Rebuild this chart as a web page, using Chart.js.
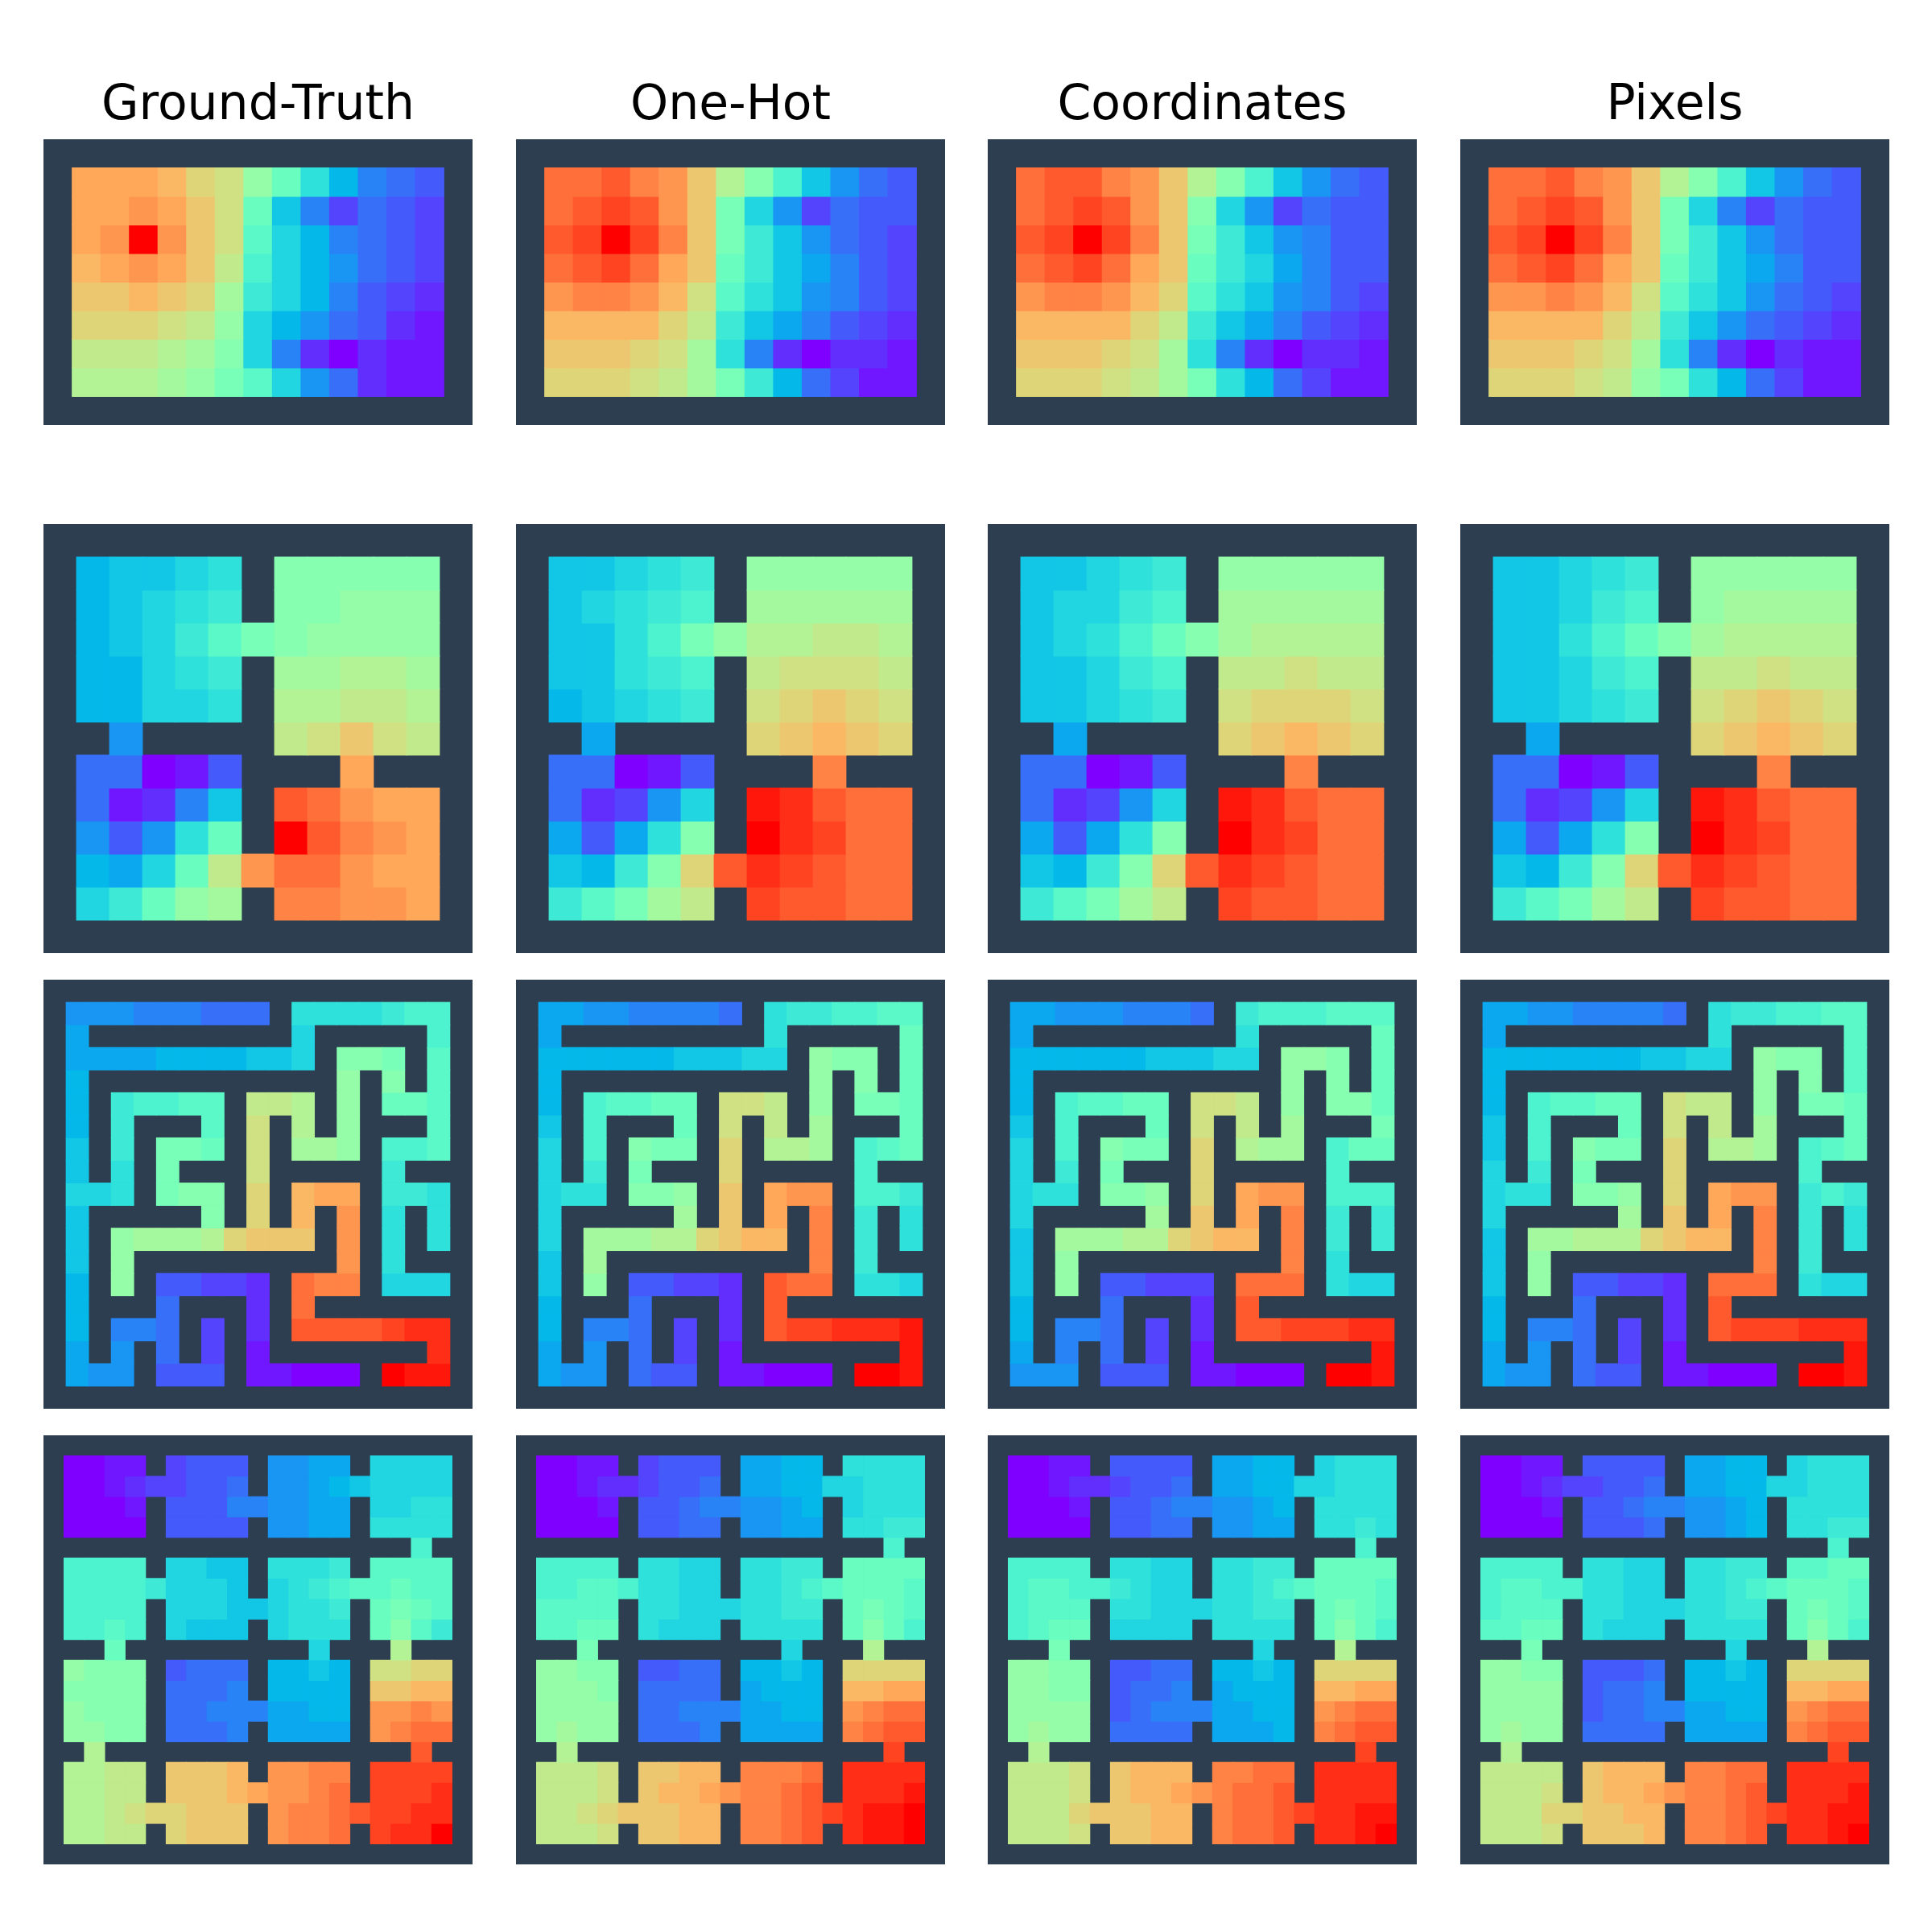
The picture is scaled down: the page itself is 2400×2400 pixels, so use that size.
<!DOCTYPE html>
<html lang="en">
<head>
<meta charset="UTF-8" />
<title>Value maps</title>
<script src="https://cdn.jsdelivr.net/npm/chart.js@4/dist/chart.umd.js"></script>
<style>
  html, body { margin: 0; background: #fff; }
  body { width: 2400px; height: 2400px; position: relative; overflow: hidden; }
  canvas { position: absolute; }
</style>
</head>
<body>
<script>
// one character per cell: "." is a wall, 0-9a-z is the value from 0 to 35 (35 = top of the scale)
const columnTitles = ["Ground-Truth", "One-Hot", "Coordinates", "Pixels"];

const openGroundTruth = ["...............",".rrrqonjgc9654.",".rrsrpnga63543.",".rszspnfb96543.",".qrsrpmeb97543.",".ppqpokdb96432.",".ooonmjb975421.",".mmmlkib620211.",".lllkjhfb75211.","..............."];
const openOneHot = ["...............",".uuvtspliea754.",".uvwvsphb73544.",".vwzwtphda7543.",".uvwurpgda8643.",".sttsqnfca7643.",".qqqqomda86432.",".ppponkc620221.",".ooonmkhd95311.","..............."];
const openCoordinates = ["...............",".uvvtspliea754.",".uvwvspib73544.",".vwzwtphda7644.",".uvwurpgdb8644.",".sttsqofca7643.",".qqqqomda86432.",".ppponkc620221.",".ooonmkhc95311.","..............."];
const openPixels = ["...............",".uuvtspliea754.",".uvwvsphb63544.",".vwzwtphda7544.",".uvwurpgda8644.",".sstsqnfca7543.",".qqqqomda75432.",".ppponkc620211.",".ooonmjhc95311.","..............."];

const roomsGroundTruth = [".............",".9aabc.iiiii.",".9abcd.iijjj.",".9abdfhijjjj.",".99bcd.kkllk.",".99bbc.llmml.","..7....mnpnm.",".55014...r...",".5126a.vusrr.",".747cg.zvtsr.",".98bgmsuusrr.",".bdgjk.ttssr.","............."];
const roomsOneHot = [".............",".aabcd.jjjjj.",".abcde.kkkkk.",".aacehjllmml.",".aacde.mnnnm.",".9abcd.nopon.","..8....opqpo.",".55014...t...",".5237b.yxvuu.",".848ci.zxwuu.",".a9diovxwvuu.",".dfhkm.wvvuu.","............."];
const roomsCoordinates = [".............",".aabcd.jjjjj.",".abbde.kkkkk.",".abcegikllll.",".aabde.mmnmm.",".aabcd.nooon.","..8....opqpo.",".55014...t...",".5237b.yxvuu.",".848ci.zxwuu.",".a9diovxwvuu.",".dfhkm.wvvuu.","............."];
const roomsPixels = [".............",".aabcd.jjjjj.",".aabde.jkkkk.",".aacegikllll.",".aabde.mmnmm.",".aabcd.nopon.","..8....opqpo.",".55014...t...",".5237b.yxvuu.",".848ci.zxwuu.",".a9diovxwvuu.",".dfhkm.wvvuu.","............."];

const mazeGroundTruth = ["...................",".777666555.ccccdee.",".8.........b.....e.",".88889999aab.iih.f.",".9...........j.i.f.",".9.deeff.mml.j.ggf.",".9.d...f.n.l.j...f.",".a.d.hhg.n.kkj.eef.",".a.c.h...n.....d...",".bbc.hii.o.qrr.ddc.",".a.....i.o.q.s.c.c.",".a.jkkkloppp.s.c.c.",".a.j.........s.c...",".9.j.44332.utt.bbb.",".9...5...2.u.......",".9.665.3.2.vvvvwxx.",".8.7.5.3.1.......x.",".877.444.11000.zyy.","..................."];
const mazeOneHot = ["...................",".887766665.cddeeff.",".8.........c.....g.",".999999aaabb.jii.g.",".9...........j.i.g.",".9.effgg.nnm.j.hhg.",".a.e...g.n.m.k...g.",".b.e.ihh.o.llk.efg.",".b.d.h...o.....e...",".bcc.iij.p.rss.eed.",".b.....k.p.r.t.d.c.",".b.kkkllopqq.t.d.c.",".a.k.........t.d...",".a.j.44332.vuu.ccb.",".9...5...2.v.......",".9.665.3.2.vwwxxxy.",".8.7.5.3.1.......y.",".877.544.11000.zzy.","..................."];
const mazeCoordinates = ["...................",".887776665.deeefff.",".8.........c.....g.",".999999aaabb.jji.g.",".9...........j.i.g.",".9.effgg.nnm.j.iig.",".a.e...g.n.m.k...h.",".b.e.ihh.o.lkk.egg.",".b.d.h...o.....e...",".bcc.iij.o.rss.eee.",".b.....k.p.r.t.d.d.",".a.kkkllopqq.t.d.d.",".a.j.........t.c...",".a.j.44333.uuu.cbb.",".9...5...2.v.......",".9.665.3.2.vvwwwxx.",".8.6.5.3.1.......y.",".777.444.11000.zzy.","..................."];
const mazePixels = ["...................",".887766665.cddeeff.",".8.........c.....f.",".9999999aabb.jii.f.",".9...........j.i.f.",".9.effgg.nmm.j.hhg.",".a.e...g.n.m.k...g.",".a.e.ihh.o.llk.efg.",".b.d.h...o.....e...",".bcc.iij.o.rss.ded.",".b.....k.p.r.t.d.c.",".a.kklllopqq.t.d.c.",".a.j.........t.d...",".a.j.44332.uuu.cbb.",".9...5...2.v.......",".9.665.3.2.vwwwxxx.",".8.7.5.3.1.......y.",".877.544.11000.zzy.","..................."];

const blocksGroundTruth = [".....................",".0011.3444.7788.bbbb.",".001233445.7789abbbb.",".0001.444667788.bbcc.",".0000.4444.7788.cccc.","..................e..",".eeee.bbaa.cccd.ffff.",".eeeedbbba.bcdeffgff.",".eeee.bbbaabccd.ghgf.",".eefe.baaa.bccc.gifd.","...g.........b...l...",".jiii.4555.99a9.nnoo.",".iiii.5556.9999.ppqq.",".jiii.556668899.ssts.",".jjii.5556.8888.stuu.","..l...............v..",".llmm.pppq.sstt.wwww.",".llmm.pppqrsstu.wwwx.",".llmnooppp.sttuvwwxx.",".llmm.oppp.sttu.wxxz.","....................."];
const blocksOneHot = [".....................",".0011.3444.8899.cccc.",".001223445.8899bbccc.",".0001.445667789.bccc.",".0000.4455.7788.ccdd.","..................e..",".eeee.ccbb.ccdd.gggg.",".eeffeccbb.ccdefgggf.",".ffff.ccbbbccdd.ghgf.",".ffgg.cbbb.cccc.gige.","...h.........b...l...",".jjii.4455.99a9.oooo.",".jjji.5555.8999.qqrr.",".jjjj.556668899.stuu.",".jkjj.5556.8888.tuvv.","..l...............w..",".mmmn.ppqq.tttu.xxxx.",".mmmn.pqqrsttuv.xxxy.",".mmnopppqq.ttuvwxyyz.",".mmmn.ppqq.ttuv.xyyz.","....................."];
const blocksCoordinates = [".....................",".0011.4444.8899.bccc.",".001223445.8899bbccc.",".0001.445667789.cccc.",".0000.4455.7788.ccdc.","..................e..",".eeee.ccbb.ccdd.gggg.",".effeedcbb.ccdefgggf.",".efff.ccbbbccdd.ghgf.",".efgg.bbbb.cccc.gige.","...h.........b...l...",".jjii.4455.99a9.oooo.",".jjii.4556.8999.qqrr.",".jjjj.456668899.stuu.",".jkjj.5555.8889.tuvv.","..l...............w..",".mmmn.pqqq.ttuu.xxxx.",".mmmn.pqqrstuuv.xxxx.",".mmmopppqq.tuuvwxxyy.",".mmmn.ppqq.tuuv.xxyz.","....................."];
const blocksPixels = [".....................",".0011.4444.8899.bccc.",".001233445.8899bbccc.",".0001.445667789.cccc.",".0000.4445.7789.ccdd.","..................e..",".eeee.ccbb.ccdd.ffgg.",".effeeccbb.ccdefgggf.",".efff.ccbbbccdd.ghgf.",".ffgg.cbbb.cccc.gige.","...h.........b...l...",".jjii.4445.99a9.oooo.",".jjjj.4556.9999.qqrr.",".jjjj.455668899.stuu.",".jkjj.5555.8888.tuvv.","..l...............w..",".mmmm.pqqq.ttuu.xxxx.",".mmmn.pqqrsttuv.xxxy.",".mmmooppqq.ttuvwxxyy.",".mmmn.pppq.ttuv.xxyz.","....................."];

const gridRows = [
  [openGroundTruth, openOneHot, openCoordinates, openPixels],
  [roomsGroundTruth, roomsOneHot, roomsCoordinates, roomsPixels],
  [mazeGroundTruth, mazeOneHot, mazeCoordinates, mazePixels],
  [blocksGroundTruth, blocksOneHot, blocksCoordinates, blocksPixels],
];

const panelLeft = [54, 641, 1227, 1814];
const panelTop = [173, 651, 1217, 1783];
const panelWidth = 533;
const panelHeight = [355, 533, 533, 533];
const titleBlock = 113;
const wallColor = "#2c3e50";

// matplotlib "rainbow"
function rainbow(x) {
  const r = Math.min(1, Math.abs(2 * x - 0.5));
  const g = Math.sin(Math.PI * x);
  const b = Math.cos((Math.PI * x) / 2);
  return `rgb(${Math.round(r * 255)},${Math.round(g * 255)},${Math.round(b * 255)})`;
}

const wallBackground = {
  id: "wallBackground",
  beforeDatasetsDraw(chart) {
    const a = chart.chartArea;
    chart.ctx.fillStyle = wallColor;
    chart.ctx.fillRect(a.left, a.top, a.right - a.left, a.bottom - a.top);
  },
};

function drawPanel(grid, row, col) {
  const canvas = document.createElement("canvas");
  const withTitle = row === 0;
  canvas.width = panelWidth;
  canvas.height = panelHeight[row] + (withTitle ? titleBlock : 0);
  canvas.style.left = panelLeft[col] + "px";
  canvas.style.top = panelTop[row] - (withTitle ? titleBlock : 0) + "px";
  document.body.appendChild(canvas);

  const nRows = grid.length;
  const labels = grid[0].split("").map((_, j) => j);
  const datasets = grid.map((line, i) => ({
    data: line.split("").map((c) => (c === "." ? null : [i, i + 1])),
    backgroundColor: line.split("").map((c) => (c === "." ? wallColor : rainbow(parseInt(c, 36) / 35))),
  }));

  new Chart(canvas, {
    type: "bar",
    data: { labels, datasets },
    plugins: [wallBackground],
    options: {
      responsive: false,
      animation: false,
      events: [],
      grouped: false,
      categoryPercentage: 1,
      barPercentage: 1,
      borderWidth: 0,
      inflateAmount: 0.4,
      layout: { padding: 0 },
      scales: {
        x: { display: false },
        y: { display: false, reverse: true, min: 0, max: nRows },
      },
      plugins: {
        legend: { display: false },
        tooltip: { enabled: false },
        title: {
          display: withTitle,
          text: columnTitles[col],
          color: "#000",
          font: { family: "DejaVu Sans", size: 60, weight: "normal", lineHeight: 1.2 },
          padding: { top: 36.8, bottom: 4.2 },
        },
      },
    },
  });
}

gridRows.forEach((panels, row) => panels.forEach((grid, col) => drawPanel(grid, row, col)));
</script>
</body>
</html>
